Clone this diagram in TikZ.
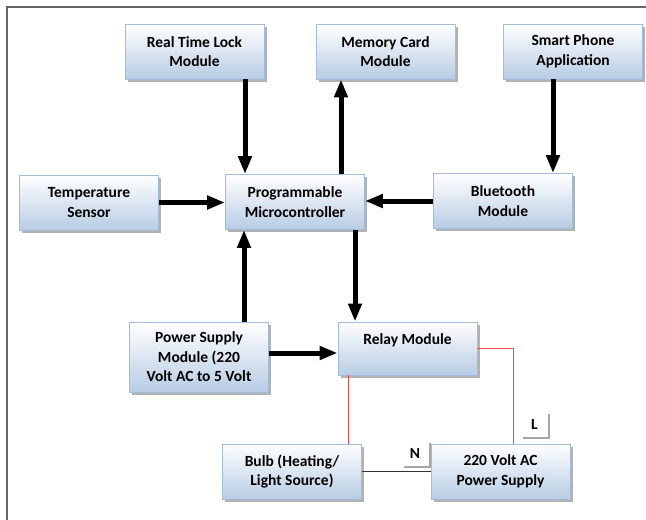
\documentclass[tikz,border=0pt]{standalone}
\usepackage{fontspec}
\setmainfont{Carlito}
\usetikzlibrary{arrows.meta, shadows}

\definecolor{boxblue}{HTML}{B8CCE4}
\definecolor{boxedge}{HTML}{A3BCDB}
\definecolor{wirered}{HTML}{F04848}

\begin{document}
\begin{tikzpicture}[
      x=1pt, y=-1pt,
      block/.style={draw=boxedge, line width=0.8pt, top color=white, bottom color=boxblue,
                    minimum width=139pt, minimum height=55pt, inner sep=2pt, align=center,
                    font=\bfseries\fontsize{15.5}{19.5}\selectfont,
                    drop shadow={shadow xshift=2.5pt, shadow yshift=-2.5pt, fill=black, opacity=0.3}},
      tag/.style={fill=white, minimum width=27pt, minimum height=25pt, inner sep=0pt,
                  font=\bfseries\fontsize{15.5}{18}\selectfont,
                  drop shadow={shadow xshift=2pt, shadow yshift=-2pt, fill=black, opacity=0.35}},
      arr/.style={line width=5pt, -{Triangle[length=18pt, width=13pt]}},
      wire/.style={draw=wirered, line width=1pt},
      neutral/.style={draw=black!80, line width=1.2pt}
    ]
    \useasboundingbox (0,0) rectangle (646,520);
    \draw[line width=1.5pt, black!60] (7,520) -- (7,7) -- (646,7);
    % top row
    \node[block] (rtl) at (194.5,51.5) {Real Time Lock\\Module};
    \node[block] (mem) at (385.5,51.5) {Memory Card\\Module};
    \node[block] (app) at (573,51.5) {Smart Phone\\Application};
    % middle row
    \node[block] (temp) at (89,202.5) {Temperature\\Sensor};
    \node[block] (mcu) at (295,202) {Programmable\\Microcontroller};
    \node[block] (bt) at (503,201) {Bluetooth\\Module};
    % power side
    \node[block, minimum height=70pt] (psu) at (199,357) {Power Supply\\Module (220\\Volt AC to 5 Volt};
    \node[block, minimum height=53pt] (relay) at (407.5,348.5) {Relay Module\\\mbox{}};
    \node[block] (bulb) at (292,471.5) {Bulb (Heating/\\Light Source)};
    \node[block] (mains) at (500.5,471.5) {220 Volt AC\\Power Supply};
    \node[tag] (n) at (415,453) {N};
    \node[tag] (l) at (534.5,424.5) {L};
    % signal arrows
    \draw[arr] ([xshift=50.5pt]rtl.south) -- ([xshift=50.5pt]rtl.south |- mcu.north);
    \draw[arr] ([xshift=46pt]mcu.north) -- ([xshift=46pt]mcu.north |- mem.south);
    \draw[arr] ([xshift=-20pt]app.south) -- ([xshift=-20pt]app.south |- bt.north);
    \draw[arr] (temp.east) -- (temp.east -| mcu.west);
    \draw[arr] (bt.west) -- (bt.west -| mcu.east);
    \draw[arr] ([xshift=45pt]psu.north) -- ([xshift=45pt]psu.north |- mcu.south);
    \draw[arr] ([xshift=60pt]mcu.south) -- ([xshift=60pt]mcu.south |- relay.north);
    \draw[arr] ([yshift=4pt]psu.east) -- ([yshift=4pt]psu.east -| relay.west);
    % mains wiring
    \draw[wire] ([xshift=-59.5pt]relay.south) -- ([xshift=-59.5pt]relay.south |- bulb.north);
    \draw[wire] (relay.east) -| ([xshift=12.5pt]mains.north);
    \draw[neutral] (bulb.east) -- (mains.west);
\end{tikzpicture}
\end{document}
